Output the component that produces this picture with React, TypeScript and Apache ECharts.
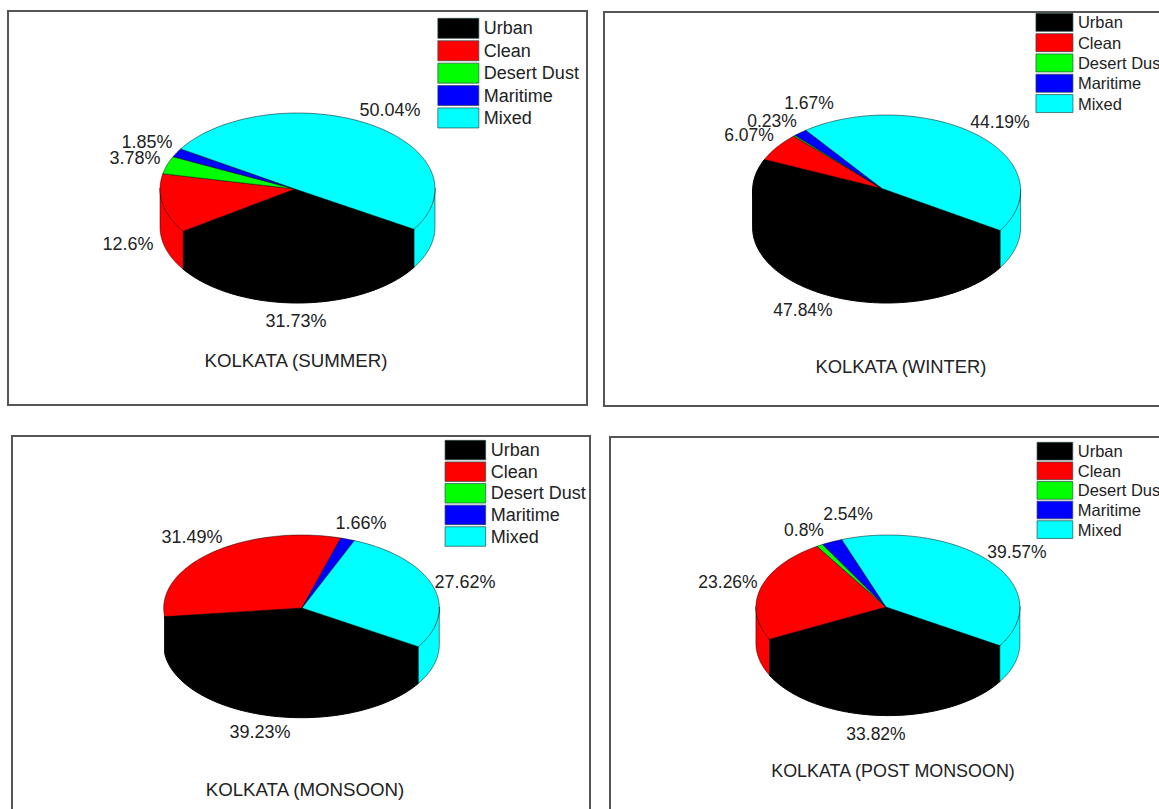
import React, { useEffect, useRef } from "react";
import * as echarts from "echarts";

// Aerosol type shares (%) for each season, in legend order.
const categories = ["Urban", "Clean", "Desert Dust", "Maritime", "Mixed"];
const sliceColors = ["#000000", "#ff0000", "#00ff00", "#0000ff", "#00ffff"];
const summerValues = [31.73, 12.6, 3.78, 1.85, 50.04];
const winterValues = [47.84, 6.07, 0.23, 1.67, 44.19];
const monsoonValues = [39.23, 31.49, 0, 1.66, 27.62];
const postMonsoonValues = [33.82, 23.26, 0.8, 2.54, 39.57];

const FONT = '"Liberation Sans", Arial, sans-serif';
const TEXT_COLOR = "#222222";
const START_ANGLE = 32; // first slice starts here, clockwise from the +x axis

type Panel = {
  title: string;
  titleAt: [number, number];
  titleFont: number;
  labelFont: number;
  values: number[];
  frame: [number, number, number, number];
  pie: { cx: number; cy: number; rx: number; ry: number; depth: number; hubX: number; hubY: number };
  legend: { left: number; top: number; w: number; h: number; gap: number; font: number };
  labelAt: ([number, number] | null)[];
};

const panels: Panel[] = [
  {
    title: "KOLKATA (SUMMER)",
    titleAt: [296, 360],
    titleFont: 18.7,
    labelFont: 18,
    values: summerValues,
    frame: [8, 11, 579, 394],
    pie: { cx: 297.5, cy: 189, rx: 137.5, ry: 76, depth: 38, hubX: 295, hubY: 189 },
    legend: { left: 437.5, top: 18, w: 41, h: 20, gap: 1.7, font: 18 },
    labelAt: [[296, 321], [128, 244], [135, 158], [147, 142], [390, 110]],
  },
  {
    title: "KOLKATA (WINTER)",
    titleAt: [901, 366],
    titleFont: 18.4,
    labelFont: 17.5,
    values: winterValues,
    frame: [604, 12, 600, 394],
    pie: { cx: 886.6, cy: 190.5, rx: 134, ry: 75.5, depth: 37, hubX: 882, hubY: 188.5 },
    legend: { left: 1035.6, top: 13, w: 37, h: 18, gap: 1.6, font: 16.5 },
    labelAt: [[803, 310], [749, 135], [772, 121], [809, 103], [1000, 122]],
  },
  {
    title: "KOLKATA (MONSOON)",
    titleAt: [305, 789],
    titleFont: 18.7,
    labelFont: 18,
    values: monsoonValues,
    frame: [12, 436, 578, 400],
    pie: { cx: 301.5, cy: 608, rx: 137.8, ry: 73, depth: 36.7, hubX: 302, hubY: 608 },
    legend: { left: 444.7, top: 440, w: 40.6, h: 19.5, gap: 1.4, font: 18 },
    labelAt: [[260, 732], [192, 537], null, [361, 523], [465, 582]],
  },
  {
    title: "KOLKATA (POST MONSOON)",
    titleAt: [893, 771],
    titleFont: 17.9,
    labelFont: 17.5,
    values: postMonsoonValues,
    frame: [610, 437, 600, 400],
    pie: { cx: 887.9, cy: 607.3, rx: 132, ry: 72.3, depth: 36, hubX: 886, hubY: 607 },
    legend: { left: 1036.7, top: 442, w: 35.7, h: 17.7, gap: 1.2, font: 16.5 },
    labelAt: [[876, 734], [728, 582], [804, 530], [848, 514], [1017, 552]],
  },
];

const rimPoint = (pie: Panel["pie"], deg: number, drop = 0): [number, number] => {
  const t = (deg * Math.PI) / 180;
  return [pie.cx + pie.rx * Math.cos(t), pie.cy + pie.ry * Math.sin(t) + drop];
};

const arcPoints = (pie: Panel["pie"], from: number, to: number, drop = 0) => {
  const steps = Math.max(2, Math.ceil((to - from) / 2));
  const pts: [number, number][] = [];
  for (let i = 0; i <= steps; i++) pts.push(rimPoint(pie, from + ((to - from) * i) / steps, drop));
  return pts;
};

// Parts of [from, to] on the front half of the cylinder, where the side wall shows.
const frontSpans = (from: number, to: number): [number, number][] => {
  const spans: [number, number][] = [];
  for (const [a, b] of [[0, 180], [360, 540]]) {
    const lo = Math.max(from, a);
    const hi = Math.min(to, b);
    if (hi > lo) spans.push([lo, hi]);
  }
  return spans;
};

const makeSliceSeries = (panel: Panel, index: number) => ({
  type: "custom",
  name: categories[index],
  coordinateSystem: "none",
  silent: true,
  clip: false,
  itemStyle: { color: sliceColors[index] },
  data: [panel.values[index]],
  renderItem: (_params: unknown, api: any) => {
    const value = api.value(0) as number;
    if (!value) return { type: "group", children: [] };
    const total = panel.values.reduce((s, v) => s + v, 0);
    const before = panel.values.slice(0, index).reduce((s, v) => s + v, 0);
    const from = START_ANGLE + (before / total) * 360;
    const to = from + (value / total) * 360;
    const { pie } = panel;
    const line = {
      fill: sliceColors[index],
      stroke: index === 0 ? "#000000" : "rgba(0,0,0,0.6)",
      lineWidth: index === 0 ? 1 : 0.8,
    };
    // A wall narrower than its own outline is left out; the neighbouring wall closes the edge.
    const walls = frontSpans(from, to)
      .filter(([lo, hi]) => Math.abs(rimPoint(pie, lo)[0] - rimPoint(pie, hi)[0]) >= 1.5)
      .map(([lo, hi]) => ({
        type: "polygon",
        shape: {
          points: [...arcPoints(pie, lo, hi, -1), ...arcPoints(pie, lo, hi, pie.depth).reverse()],
        },
        style: line,
      }));
    const top = {
      type: "polygon",
      shape: { points: [[pie.hubX, pie.hubY], ...arcPoints(pie, from, to)] },
      style: line,
    };
    const at = panel.labelAt[index];
    const label = at
      ? [
          {
            type: "text",
            style: {
              text: `${value}%`,
              x: at[0],
              y: at[1],
              align: "center",
              verticalAlign: "middle",
              font: `${panel.labelFont}px ${FONT}`,
              fill: TEXT_COLOR,
            },
          },
        ]
      : [];
    return { type: "group", children: [...walls, top, ...label] };
  },
});

export default function App() {
  const ref = useRef<HTMLDivElement>(null);

  useEffect(() => {
    document.body.style.margin = "0";
    document.body.style.background = "#ffffff";
    document.body.style.overflow = "hidden";
    const chart = echarts.init(ref.current!, null, { renderer: "svg" });
    chart.setOption({
      animation: false,
      backgroundColor: "#ffffff",
      title: panels.map((p) => ({
        text: p.title,
        left: p.titleAt[0],
        top: p.titleAt[1] - 9,
        textAlign: "center",
        padding: 0,
        textStyle: { fontFamily: FONT, fontSize: p.titleFont, fontWeight: "normal", color: TEXT_COLOR },
      })),
      legend: panels.map((p) => ({
        data: categories,
        orient: "vertical",
        left: p.legend.left,
        top: p.legend.top,
        padding: 0,
        itemWidth: p.legend.w,
        itemHeight: p.legend.h,
        itemGap: p.legend.gap,
        icon: "rect",
        selectedMode: false,
        itemStyle: { borderColor: "#2a4a4a", borderWidth: 0.7 },
        textStyle: {
          fontFamily: FONT,
          fontSize: p.legend.font,
          lineHeight: p.legend.h,
          color: TEXT_COLOR,
        },
      })),
      graphic: {
        elements: panels.map((p) => ({
          type: "rect",
          silent: true,
          shape: { x: p.frame[0], y: p.frame[1], width: p.frame[2], height: p.frame[3] },
          style: { fill: "none", stroke: "#555555", lineWidth: 2 },
        })),
      },
      series: panels.flatMap((p) => categories.map((_, i) => makeSliceSeries(p, i))),
    });
    return () => chart.dispose();
  }, []);

  return <div ref={ref} style={{ width: 1159, height: 809, overflow: "hidden" }} />;
}
